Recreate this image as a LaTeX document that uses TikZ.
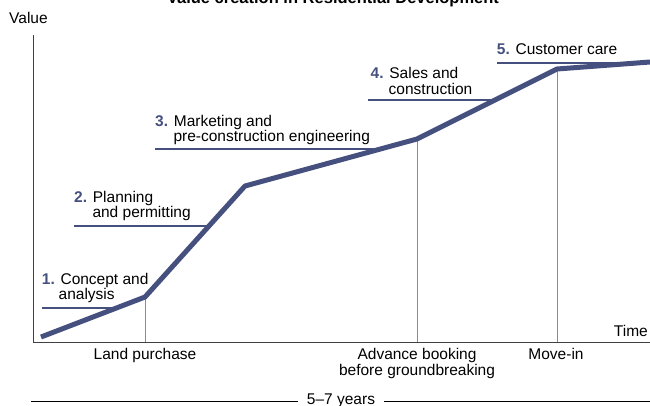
\documentclass[tikz,border=0pt]{standalone}
\usepackage{fontspec}
\setmainfont{Liberation Sans}
\usetikzlibrary{calc}
\definecolor{curveblue}{HTML}{46507F}
\tikzstyle{valueline}=[draw=curveblue, line width=5pt, line join=round]
\tikzstyle{stage}=[draw=curveblue, line width=1.8pt]
\tikzstyle{moment}=[draw=black!45, line width=1pt]
\tikzstyle{axis}=[draw=black!75, line width=1pt]
\tikzstyle{txt}=[anchor=base west, inner sep=0pt, font=\fontsize{15.5}{15.5}\selectfont]
\tikzstyle{event}=[anchor=base, inner sep=0pt, font=\fontsize{15.5}{15.5}\selectfont]
\newcommand{\nr}[1]{{\bfseries\color{curveblue}#1}}

\begin{document}
\begin{tikzpicture}[x=1pt, y=-1pt]
                    \useasboundingbox (0,0) rectangle (650,405);
                    \node[anchor=base, inner sep=0pt, font=\bfseries\fontsize{16.5}{16.5}\selectfont] (title) at (333,3) {Value creation in Residential Development};
                    % axes
                    \coordinate (o) at (33,342);
                    \coordinate (ytop) at (33,35);
                    \coordinate (xend) at (650,342);
                    \draw[axis] (ytop) -- (o) -- (xend);
                    \node[txt] (yl) at (9,23.5) {Value};
                    \node[txt, anchor=base east] (xl) at (648,336) {Time};
                    % value curve
                    \coordinate (0) at (41,337);
                    \coordinate (1) at (145,297);
                    \coordinate (2) at (245,186);
                    \coordinate (3) at (417,139);
                    \coordinate (4) at (557,69);
                    \coordinate (5) at (650,62);
                    \draw[moment] (1) -- (1 |- o) (3) -- (3 |- o) (4) -- (4 |- o);
                    % stages
                    \node[txt] (11) at (41.7,284.3) {\nr{1.} Concept and};
                    \node[txt] (12) at (58.5,299.3) {analysis};
                    \node[txt] (21) at (74,202.3) {\nr{2.} Planning};
                    \node[txt] (22) at (92.3,217.7) {and permitting};
                    \node[txt] (31) at (155,126) {\nr{3.} Marketing and};
                    \node[txt] (32) at (173.3,141.7) {pre-construction engineering};
                    \node[txt] (41) at (370.5,78.3) {\nr{4.} Sales and};
                    \node[txt] (42) at (388.5,94.3) {construction};
                    \node[txt] (51) at (496.7,54.3) {\nr{5.} Customer care};
                    \coordinate (1s) at (42,307.7);
                    \coordinate (2s) at (74,225.7);
                    \coordinate (3s) at (155,149.3);
                    \coordinate (4s) at (368,100);
                    \coordinate (5s) at (497,63.3);
                    \coordinate (1e) at ($(0)!0.73!(1)$);
                    \coordinate (2e) at ($(1)!0.64!(2)$);
                    \coordinate (3e) at ($(2)!0.78!(3)$);
                    \coordinate (4e) at ($(3)!0.56!(4)$);
                    \coordinate (5e) at ($(4)!0.7!(5)$);
                    \foreach \i in {1,...,5}
                        \draw[stage] (\i s) -- (\i s -| \i e);
                    \draw[valueline] (0) -- (1) -- (2) -- (3) -- (4) -- (5);
                    % events
                    \node[event] (e1) at (145,359) {Land purchase};
                    \node[event] (e3a) at (417,359.5) {Advance booking};
                    \node[event] (e3b) at (417,375) {before groundbreaking};
                    \node[event] (e4) at (556,359.5) {Move-in};
                    % duration
                    \coordinate (dl) at (31,401);
                    \coordinate (dr) at (650,401);
                    \node[event, inner xsep=9pt] (yrs) at (341,404) {5--7 years};
                    \draw[line width=1pt] (dl) -- (dl -| yrs.west) (yrs.east |- dr) -- (dr);
                \end{tikzpicture}
\end{document}
